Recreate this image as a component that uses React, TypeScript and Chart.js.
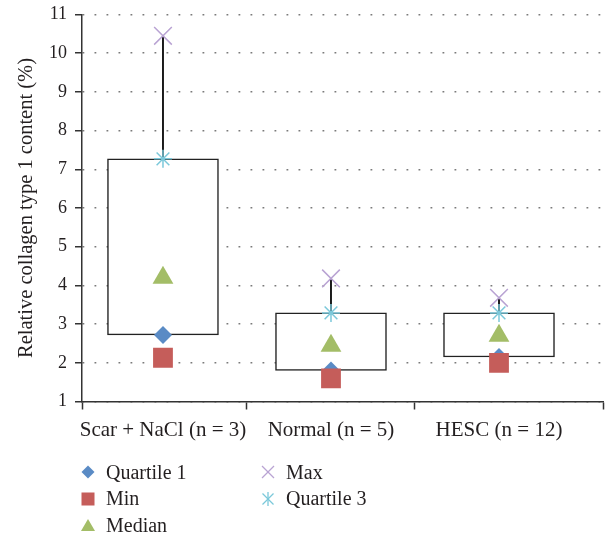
import React, { useEffect, useRef } from 'react';
import { Chart, registerables } from 'chart.js';

Chart.register(...registerables);

const categories = ['Scar + NaCl (n = 3)', 'Normal (n = 5)', 'HESC (n = 12)'];
const quartile1 = [2.72, 1.8, 2.15];
const minimum = [2.13, 1.6, 2.0];
const median = [4.2, 2.44, 2.7];
const maximum = [10.45, 4.18, 3.68];
const quartile3 = [7.27, 3.29, 3.29];
const yTicks = [1, 2, 3, 4, 5, 6, 7, 8, 9, 10, 11];

const FONT = '"Liberation Serif", "Times New Roman", serif';
const TEXT = '#231F20';

const COLORS = {
  q1: '#5A8BC5',
  min: '#C55D5A',
  median: '#A3BD67',
  max: '#B9A3D3',
  q3: '#7BC8DA',
};

const pts = (vals: number[]) => vals.map((v, i) => ({ x: i, y: v }));

function Marker({ kind }: { kind: string }) {
  const common = { width: 16, height: 16, viewBox: '0 0 16 16', style: { display: 'block' } as React.CSSProperties };
  if (kind === 'q1')
    return (
      <svg {...common}>
        <polygon points="8,1.5 14.5,8 8,14.5 1.5,8" fill={COLORS.q1} />
      </svg>
    );
  if (kind === 'min')
    return (
      <svg {...common}>
        <rect x="1.5" y="1.5" width="13" height="13" fill={COLORS.min} />
      </svg>
    );
  if (kind === 'median')
    return (
      <svg {...common}>
        <polygon points="8,2 15,14 1,14" fill={COLORS.median} />
      </svg>
    );
  if (kind === 'max')
    return (
      <svg {...common}>
        <line x1="2" y1="2" x2="14" y2="14" stroke={COLORS.max} strokeWidth="1.3" />
        <line x1="14" y1="2" x2="2" y2="14" stroke={COLORS.max} strokeWidth="1.3" />
      </svg>
    );
  return (
    <svg {...common}>
      <line x1="8" y1="1" x2="8" y2="15" stroke={COLORS.q3} strokeWidth="1.3" />
      <line x1="2.5" y1="2.5" x2="13.5" y2="13.5" stroke={COLORS.q3} strokeWidth="1.3" />
      <line x1="13.5" y1="2.5" x2="2.5" y2="13.5" stroke={COLORS.q3} strokeWidth="1.3" />
    </svg>
  );
}

const legendItems = [
  { kind: 'q1', label: 'Quartile 1', col: 0, row: 0 },
  { kind: 'min', label: 'Min', col: 0, row: 1 },
  { kind: 'median', label: 'Median', col: 0, row: 2 },
  { kind: 'max', label: 'Max', col: 1, row: 0 },
  { kind: 'q3', label: 'Quartile 3', col: 1, row: 1 },
];

export default function App() {
  const ref = useRef<HTMLCanvasElement | null>(null);

  useEffect(() => {
    if (!ref.current) return;
    const chart = new Chart(ref.current, {
      type: 'bar',
      data: {
        datasets: [
          {
            type: 'scatter',
            label: 'Min',
            data: pts(minimum),
            pointStyle: 'rect',
            pointRadius: 14,
            backgroundColor: COLORS.min,
            borderColor: COLORS.min,
            borderWidth: 0,
            order: 0,
          } as any,
          {
            type: 'scatter',
            label: 'Quartile 3',
            data: pts(quartile3),
            pointStyle: 'star',
            pointRadius: 9,
            backgroundColor: COLORS.q3,
            borderColor: COLORS.q3,
            borderWidth: 1.5,
            order: 1,
          } as any,
          {
            type: 'scatter',
            label: 'Max',
            data: pts(maximum),
            pointStyle: 'crossRot',
            pointRadius: 12.5,
            backgroundColor: COLORS.max,
            borderColor: COLORS.max,
            borderWidth: 1.5,
            order: 2,
          } as any,
          {
            type: 'scatter',
            label: 'Median',
            data: pts(median),
            pointStyle: 'triangle',
            pointRadius: 12,
            backgroundColor: COLORS.median,
            borderColor: COLORS.median,
            borderWidth: 0,
            order: 3,
          } as any,
          {
            type: 'scatter',
            label: 'Quartile 1',
            data: pts(quartile1),
            pointStyle: 'rectRot',
            pointRadius: 9,
            backgroundColor: COLORS.q1,
            borderColor: COLORS.q1,
            borderWidth: 0,
            order: 4,
          } as any,
          {
            type: 'bar',
            label: 'whisker',
            data: categories.map((_, i) => ({ x: i, y: [quartile3[i], maximum[i]] })),
            backgroundColor: '#1a1a1a',
            borderWidth: 0,
            barThickness: 1.3,
            grouped: false,
            order: 5,
          } as any,
          {
            type: 'bar',
            label: 'box',
            data: categories.map((_, i) => ({ x: i, y: [quartile1[i], quartile3[i]] })),
            backgroundColor: '#ffffff',
            borderColor: '#222',
            borderWidth: 1.5,
            borderSkipped: false,
            barThickness: 111,
            grouped: false,
            order: 6,
          } as any,
        ],
      },
      options: {
        animation: false,
        responsive: false,
        maintainAspectRatio: false,
        layout: { autoPadding: false, padding: { left: 0, top: 14.5, right: 3, bottom: 85.5 } },
        plugins: { legend: { display: false }, tooltip: { enabled: false } },
        scales: {
          x: {
            type: 'linear',
            min: -0.482,
            max: 2.619,
            offset: false,
            afterBuildTicks: (s: any) => {
              s.ticks = [s.min, 0, 0.5, 1, 1.5, 2, s.max].map((v: number) => ({ value: v }));
            },
            afterFit: (s: any) => {
              s.height = 50;
              s.paddingLeft = 0;
              s.paddingRight = 0;
            },
            ticks: {
              autoSkip: false,
              maxRotation: 0,
              minRotation: 0,
              padding: 8,
              color: TEXT,
              font: { family: FONT, size: 21 },
              callback: (v: any) => (Number.isInteger(v) && categories[v] !== undefined ? categories[v] : ''),
            },
            grid: {
              display: true,
              drawOnChartArea: false,
              drawTicks: true,
              offset: false,
              tickLength: 8,
              tickWidth: 1.5,
              tickColor: (ctx: any) => (ctx.tick && Number.isInteger(ctx.tick.value) ? 'rgba(0,0,0,0)' : '#333'),
            },
            border: { display: true, color: '#333', width: 1.5 },
          },
          y: {
            type: 'linear',
            min: 1,
            max: 11,
            afterBuildTicks: (s: any) => {
              s.ticks = yTicks.map((v) => ({ value: v }));
            },
            afterFit: (s: any) => {
              s.width = 82;
              s.paddingTop = 0;
              s.paddingBottom = 0;
            },
            ticks: { color: TEXT, padding: 8, font: { family: FONT, size: 18 } },
            grid: {
              color: '#7a7a7a',
              lineWidth: 1.5,
              drawTicks: true,
              tickLength: 7,
              tickWidth: 1.5,
              tickColor: '#333',
              tickBorderDash: [],
            },
            border: { display: true, color: '#333', width: 1.5, dash: [1.8, 10.2] },
            title: {
              display: true,
              text: 'Relative collagen type 1 content (%)',
              color: TEXT,
              font: { family: FONT, size: 20.5 },
              padding: { top: 14, bottom: 0 },
            },
          },
        },
      } as any,
    });
    return () => chart.destroy();
  }, []);

  return (
    <div style={{ position: 'absolute', left: 0, top: 0, width: 606, height: 537, background: '#fff' }}>
      <canvas ref={ref} width={606} height={537} style={{ display: 'block', width: 606, height: 537 }} />
      {legendItems.map((it) => (
        <div
          key={it.label}
          style={{
            position: 'absolute',
            left: it.col === 0 ? 80 : 260,
            top: 460 + it.row * 26.5,
            height: 24,
            display: 'flex',
            alignItems: 'center',
            fontFamily: FONT,
            fontSize: 20,
            color: TEXT,
            whiteSpace: 'nowrap',
          }}
        >
          <Marker kind={it.kind} />
          <span style={{ marginLeft: 10 }}>{it.label}</span>
        </div>
      ))}
    </div>
  );
}
